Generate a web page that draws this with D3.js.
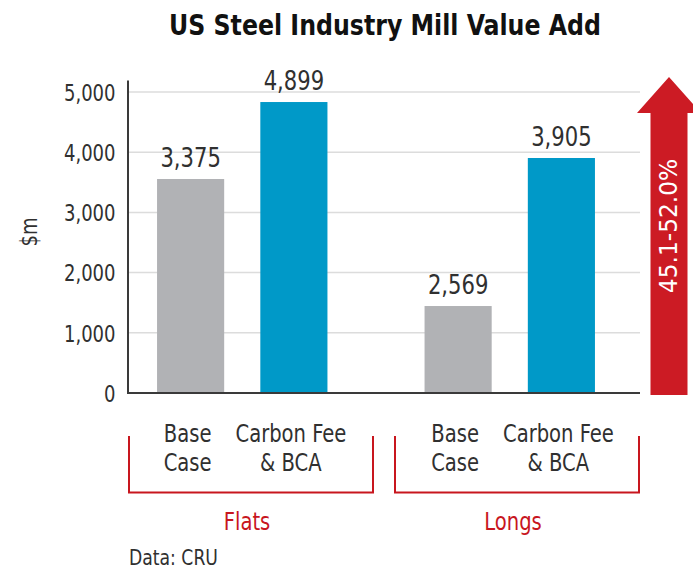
<!DOCTYPE html>
<html lang="en">
<head>
<meta charset="UTF-8">
<title>US Steel Industry Mill Value Add</title>
<style>
  body { margin: 0; background: #fff; }
  svg text {
    font-family: "Liberation Sans Narrow", "DejaVu Sans Condensed", "Roboto", sans-serif;
    font-stretch: condensed;
    fill: #303030;
  }
  .title { font-weight: bold; font-size: 28px; fill: #111 !important; }
  .tick text { font-size: 23px; }
  .grid line { stroke: #dcdcdc; stroke-width: 1.5px; }
  .vlabel { font-size: 27px; }
  .cat { font-size: 25px; }
  .group { font-size: 25px; fill: #c8161e !important; }
  .bracket { fill: none; stroke: #c8161e; stroke-width: 2px; }
  .src { font-size: 22px; }
</style>
</head>
<body>
<div id="chart"></div>
<script src="https://d3js.org/d3.v7.min.js"></script>
<script>
// data
var groups = ['Flats', 'Longs'];
var scenarios = ['Base Case', 'Carbon Fee & BCA'];
var scenarioLines = [['Base', 'Case'], ['Carbon Fee', '& BCA']];
// bar heights as drawn, and the value printed above each bar
var flatsValues = [3555, 4834];
var longsValues = [1445, 3904];
var flatsLabels = ['3,375', '4,899'];
var longsLabels = ['2,569', '3,905'];
var yTicks = [0, 1000, 2000, 3000, 4000, 5000];
var arrowLabel = '45.1-52.0%';

var width = 693, height = 569;
var colors = { 'Base Case': '#b1b2b5', 'Carbon Fee & BCA': '#0099c8' };
var SQ = 0.87; // horizontal squeeze so the text looks like a narrow face

var rows = [];
groups.forEach(function(g, gi) {
  var vals = gi === 0 ? flatsValues : longsValues;
  var labs = gi === 0 ? flatsLabels : longsLabels;
  scenarios.forEach(function(s, si) {
    rows.push({ group: g, scenario: s, value: vals[si], label: labs[si] });
  });
});

function place(sel, x, y, sx, rot) {
  return sel.attr('transform', 'translate(' + x + ',' + y + ')' +
    (rot ? ' rotate(' + rot + ')' : '') + ' scale(' + sx + ',1)');
}

var svg = d3.select('#chart').append('svg')
  .attr('width', width)
  .attr('height', height);

var y = d3.scaleLinear().domain([0, 5200]).range([393, 80]);
var x0 = d3.scaleBand().domain(groups).range([128, 624])
  .paddingInner(0.363).paddingOuter(0.1086);
var x1 = d3.scaleBand().domain(scenarios).range([0, x0.bandwidth()])
  .paddingInner(0.35);
var xb = d3.scaleBand().domain(groups).range([129, 639]).paddingInner(0.0827);

// title
place(svg.append('text'), 385, 35, 0.94)
  .attr('class', 'title')
  .attr('text-anchor', 'middle')
  .text('US Steel Industry Mill Value Add');

// gridlines
svg.append('g')
  .attr('class', 'grid')
  .selectAll('line')
  .data(yTicks.slice(1))
  .enter().append('line')
  .attr('x1', 128).attr('x2', 640)
  .attr('y1', function(d) { return y(d); })
  .attr('y2', function(d) { return y(d); });

// y axis
var yAxis = svg.append('g')
  .attr('transform', 'translate(127.5,0)')
  .call(d3.axisLeft(y).tickValues(yTicks).tickSize(0).tickPadding(12)
    .tickFormat(d3.format(',')));
yAxis.select('.domain').attr('stroke', '#3a3a3a').attr('stroke-width', 2);
yAxis.selectAll('.tick text')
  .attr('dy', '0.36em')
  .attr('x', -12 / SQ)
  .attr('transform', 'scale(' + SQ + ',1)');

place(svg.append('text'), 37, 232, SQ, -90)
  .attr('text-anchor', 'middle')
  .style('font-size', '23px')
  .text('$m');

// bars
svg.selectAll('rect.bar')
  .data(rows)
  .enter().append('rect')
  .attr('class', 'bar')
  .attr('x', function(d) { return x0(d.group) + x1(d.scenario); })
  .attr('width', x1.bandwidth())
  .attr('y', function(d) { return y(d.value); })
  .attr('height', function(d) { return y(0) - y(d.value); })
  .attr('fill', function(d) { return colors[d.scenario]; });

rows.forEach(function(d) {
  var cx = x0(d.group) + x1(d.scenario) + x1.bandwidth() / 2;
  place(svg.append('text'), cx, y(d.value) - 12, SQ)
    .attr('class', 'vlabel')
    .attr('text-anchor', 'middle')
    .text(d.label);
});

// baseline
svg.append('line')
  .attr('x1', 127).attr('x2', 640)
  .attr('y1', y(0)).attr('y2', y(0))
  .attr('stroke', '#3a3a3a').attr('stroke-width', 2);

// category labels
rows.forEach(function(d) {
  var lines = scenarioLines[scenarios.indexOf(d.scenario)];
  var cx = x0(d.group) + x1(d.scenario) + x1.bandwidth() / 2 - 3;
  var t = place(svg.append('text'), cx, 442, SQ)
    .attr('class', 'cat')
    .attr('text-anchor', 'middle');
  lines.forEach(function(l, i) {
    t.append('tspan')
      .attr('x', 0)
      .attr('y', i * 29)
      .text(l);
  });
});

// brackets
groups.forEach(function(g) {
  var xl = xb(g), xr = xb(g) + xb.bandwidth();
  svg.append('path')
    .attr('class', 'bracket')
    .attr('d', 'M' + xl + ',436V492.5H' + xr + 'V436');
  place(svg.append('text'), xl + xb.bandwidth() / 2 - 4, 530, SQ)
    .attr('class', 'group')
    .attr('text-anchor', 'middle')
    .text(g);
});

// source
place(svg.append('text'), 129, 565, SQ)
  .attr('class', 'src')
  .text('Data: CRU');

// arrow
var ax = 669, shaftHalf = 18.5, headHalf = 32;
var arrowTop = y(5200) - 3, headBase = arrowTop + 36, arrowBottom = y(0) + 2;
svg.append('path')
  .attr('fill', '#cc1b24')
  .attr('d', 'M' + ax + ',' + arrowTop +
    'L' + (ax + headHalf) + ',' + headBase +
    'L' + (ax + shaftHalf) + ',' + headBase +
    'L' + (ax + shaftHalf) + ',' + arrowBottom +
    'L' + (ax - shaftHalf) + ',' + arrowBottom +
    'L' + (ax - shaftHalf) + ',' + headBase +
    'L' + (ax - headHalf) + ',' + headBase + 'Z');
place(svg.append('text'), 677, 226, 1.08, -90)
  .attr('text-anchor', 'middle')
  .style('font-size', '24px')
  .style('fill', '#fff')
  .text(arrowLabel);
</script>
</body>
</html>
